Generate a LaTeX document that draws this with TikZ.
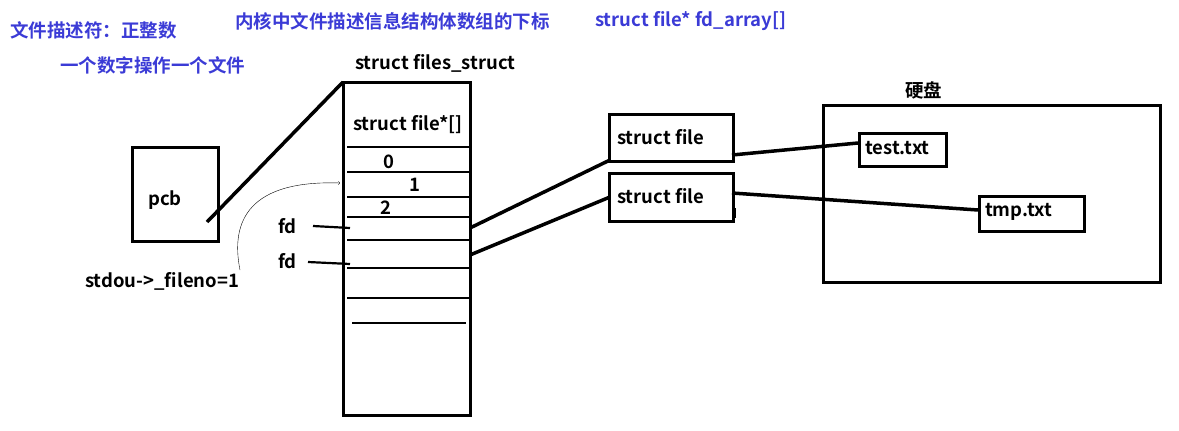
\documentclass[tikz,border=0pt]{standalone}
\usepackage{fontspec}
\setmainfont{Noto Sans CJK SC}[BoldFont={* Bold}]
\definecolor{lbl}{HTML}{3B3BD6}
\begin{document}
\begin{tikzpicture}[x=1pt,y=-1pt,
  txt/.style={font=\fontsize{18.5}{21}\selectfont\bfseries,inner sep=0pt,anchor=west},
  btxt/.style={txt,text=lbl},
  bx/.style={draw,line width=3pt},
  ln/.style={line width=3.5pt},
  sl/.style={line width=2.2pt}]
\useasboundingbox (0,0) rectangle (1179,431);
\node[btxt] (t1) at (10,30) {文件描述符：正整数};
\node[btxt] (t2) at (60,65) {一个数字操作一个文件};
\node[btxt] (t3) at (235,21) {内核中文件描述信息结构体数组的下标};
\node[btxt] (t4) at (595,21) {struct file* fd\_array[]};
\draw[bx] (132,147) rectangle (218,241);
\node[txt] (pcb) at (148,200) {pcb};
\node[txt] (fs) at (355,63) {struct files\_struct};
\draw[bx] (343,82) rectangle (470,415);
\coordinate (pa) at (207,222); \coordinate (fa) at (343,82);
\draw[ln] (pa) -- (fa);
\node[txt] (arr) at (353,125) {struct file*[]};
\foreach \y/\a/\b in {147/347/470,172/347/470,197/347/470,217/347/472,240/347/470,268/347/470,298/347/472,323/352/466}
  \draw[sl] (\a,\y) -- (\b,\y);
\node[txt] (n0) at (383,162) {0};
\node[txt] (n1) at (409,185) {1};
\node[txt] (n2) at (380,208) {2};
\node[txt] (fd1) at (278,226) {fd};
\node[txt] (fd2) at (278,261) {fd};
\draw[sl] (313,226) -- (350,228);
\draw[sl] (308,262) -- (350,264);
\node[txt] (std) at (85,281) {stdou->\_fileno=1};
\draw[->,thin] (240,270) .. controls (230,220) and (250,180) .. (340,183);
\node[draw,line width=3pt,minimum width=124pt,minimum height=47pt,anchor=north west,inner sep=0pt] (sf1) at (608,113) {};
\node[txt] at (617,137) {struct file};
\node[draw,line width=3pt,minimum width=124pt,minimum height=48pt,anchor=north west,inner sep=0pt] (sf2) at (608,172) {};
\node[txt] at (617,196) {struct file};
\draw[ln] (470,228) -- (610,160);
\draw[ln] (470,255) -- (610,197);
\draw[bx] (823,105) rectangle (1160,282);
\node[txt] (hd) at (905,90) {硬盘};
\node[draw,line width=3pt,minimum width=87pt,minimum height=33pt,anchor=north west,inner sep=0pt] (test) at (858,132) {};
\node[txt] at (865,148) {test.txt};
\node[draw,line width=3pt,minimum width=105pt,minimum height=35pt,anchor=north west,inner sep=0pt] (tmp) at (978,195) {};
\node[txt] at (985,212) {tmp.txt};
\draw[ln] (732,155) -- (858,143);
\draw[ln] (732,193) -- (978,210);
\draw[sl] (735,208) -- (735,218);
\end{tikzpicture}
\end{document}
